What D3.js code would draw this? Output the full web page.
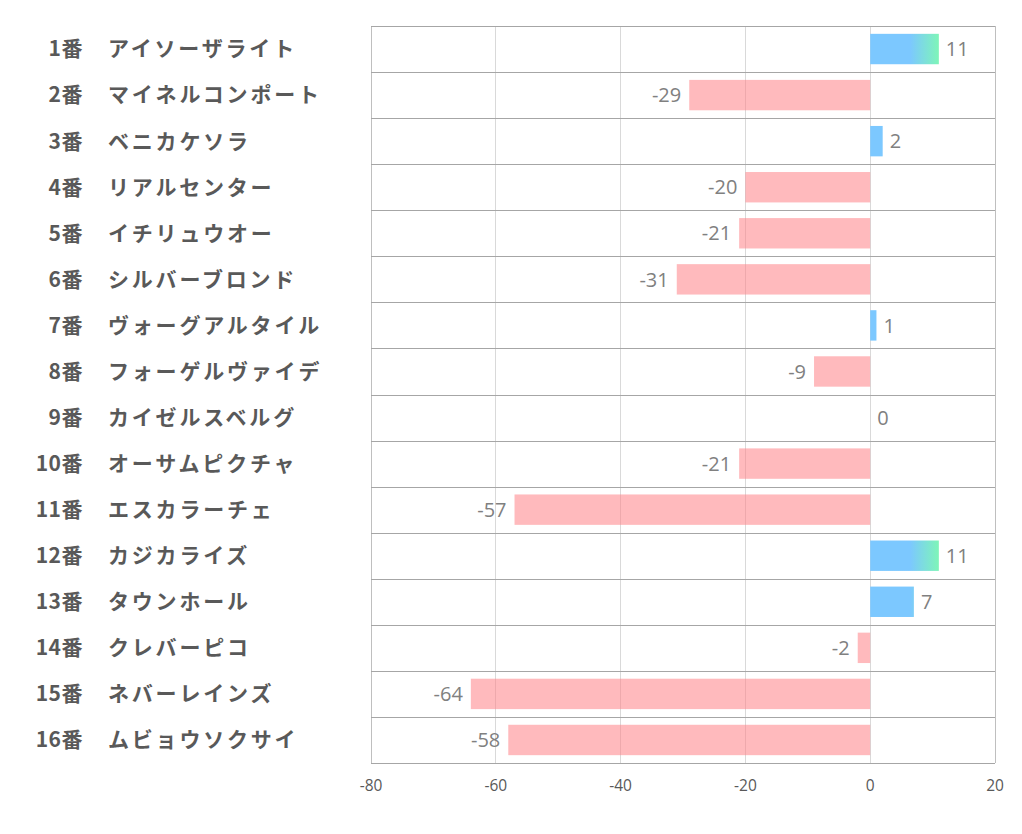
<!DOCTYPE html>
<html><head><meta charset="utf-8">
<script src="https://cdn.jsdelivr.net/npm/d3@7"></script>
<style>body{margin:0;background:#fff;}</style>
</head><body>
<script>
const nums = ["1番","2番","3番","4番","5番","6番","7番","8番","9番","10番","11番","12番","13番","14番","15番","16番"];
const names = ["アイソーザライト","マイネルコンポート","ベニカケソラ","リアルセンター","イチリュウオー","シルバーブロンド","ヴォーグアルタイル","フォーゲルヴァイデ","カイゼルスベルグ","オーサムピクチャ","エスカラーチェ","カジカライズ","タウンホール","クレバーピコ","ネバーレインズ","ムビョウソクサイ"];
const values = [11,-29,2,-20,-21,-31,1,-9,0,-21,-57,11,7,-2,-64,-58];
const ticks = [-80,-60,-40,-20,0,20];

const W=1022,H=834;
const svg=d3.select("body").append("svg").attr("width",W).attr("height",H);
const x=d3.scaleLinear().domain([-80,20]).range([371,995]);
const y=d3.scaleBand().domain(d3.range(16)).range([26,763]).paddingInner(0.34).paddingOuter(0.17);
const rowH=(763-26)/16;

const defs=svg.append("defs");
const g=defs.append("linearGradient").attr("id","pg").attr("gradientUnits","userSpaceOnUse")
  .attr("x1",x(6.4)).attr("x2",x(11)).attr("y1",0).attr("y2",0);
g.append("stop").attr("offset",0).attr("stop-color","#7cc8ff");
g.append("stop").attr("offset",1).attr("stop-color","#7ef5b8");

// vertical gridlines
svg.append("g").selectAll("line").data(ticks).join("line")
  .attr("x1",d=>x(d)).attr("x2",d=>x(d)).attr("y1",26).attr("y2",763)
  .attr("stroke",d=>(d===-80||d===20)?"#bfbfbf":"#d9d9d9").attr("stroke-width",1)
  .attr("shape-rendering","crispEdges");

// bars
svg.append("g").selectAll("rect").data(values).join("rect")
  .attr("x",d=>x(Math.min(0,d))).attr("width",d=>Math.abs(x(d)-x(0)))
  .attr("y",(d,i)=>y(i)).attr("height",y.bandwidth())
  .attr("fill",d=>d>=0?"url(#pg)":"rgb(255,130,135)")
  .attr("fill-opacity",d=>d>=0?1:0.55);

// horizontal row lines
svg.append("g").selectAll("line").data(d3.range(17)).join("line")
  .attr("x1",371).attr("x2",995).attr("y1",i=>Math.round(26+i*rowH)+0.5).attr("y2",i=>Math.round(26+i*rowH)+0.5)
  .attr("stroke","#a6a6a6").attr("stroke-width",1);

// value labels
svg.append("g").selectAll("text").data(values).join("text")
  .attr("x",d=>d>=0?x(d)+7:x(d)-8)
  .attr("y",(d,i)=>y(i)+y.bandwidth()/2)
  .attr("dy","0.36em")
  .attr("text-anchor",d=>d>=0?"start":"end")
  .attr("font-family","'Open Sans','Noto Sans',sans-serif").attr("font-size",20)
  .attr("fill","#808080").text(d=>d);

// category labels
const lab=svg.append("g").attr("font-family","'Noto Sans CJK JP',sans-serif").attr("font-weight","bold")
  .attr("font-size",21).attr("fill","#595959");
lab.selectAll("text.n").data(nums).join("text").attr("class","n")
  .attr("x",83).attr("y",(d,i)=>y(i)+y.bandwidth()/2).attr("dy","0.35em")
  .attr("text-anchor","end").attr("letter-spacing","0.5px").text(d=>d);
lab.selectAll("text.m").data(names).join("text").attr("class","m")
  .attr("x",108).attr("y",(d,i)=>y(i)+y.bandwidth()/2).attr("dy","0.35em")
  .attr("letter-spacing","2.8px").text(d=>d);

// x axis tick labels
svg.append("g").selectAll("text").data(ticks).join("text")
  .attr("x",d=>x(d)).attr("y",791).attr("text-anchor","middle")
  .attr("font-family","'Open Sans','Noto Sans',sans-serif").attr("font-size",15.5)
  .attr("fill","#595959").text(d=>d);
</script>
</body></html>
